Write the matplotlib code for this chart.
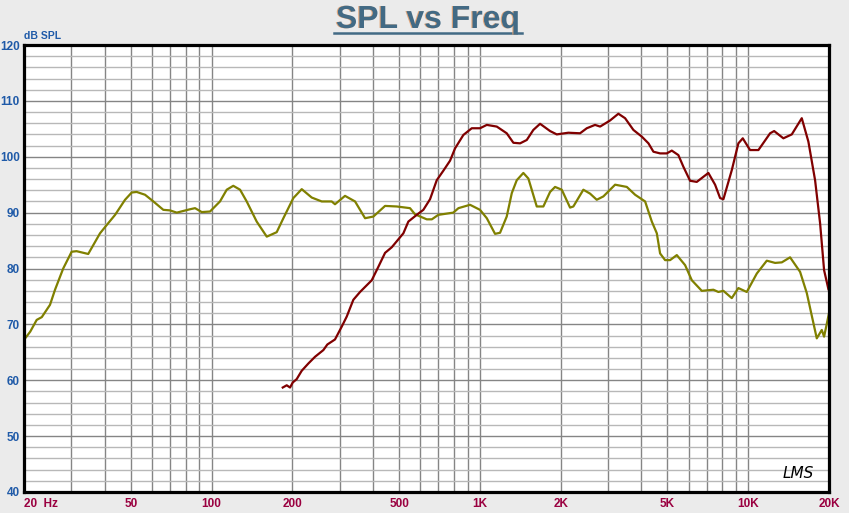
import numpy as np
import matplotlib
matplotlib.use('Agg')
import matplotlib.pyplot as plt
import matplotlib.patheffects as pe
from matplotlib.lines import Line2D
from matplotlib.ticker import NullFormatter

# olive trace
olive_freq = [20.2, 21.1, 22.3, 23.3, 25.0, 26.1, 28.0, 30.1, 31.4, 34.7,
              38.4, 40.7, 43.7, 47.6, 50.4, 52.6, 56.5, 60.7, 66.1, 70.0,
              74.2, 78.5, 83.1, 86.8, 91.9, 98.7, 107.5, 113.9, 120.5, 127.7,
              135.2, 147.3, 160.6, 174.9, 185.2, 201.7, 216.8, 236.2, 257.4, 280.4,
              288.4, 314.3, 342.6, 373.3, 400.9, 443.2, 490, 549, 573, 634,
              662, 700, 796, 832, 919, 1001, 1061, 1139, 1189, 1259,
              1315, 1372, 1452, 1516, 1629, 1724, 1826, 1906, 2019, 2168,
              2230, 2430, 2574, 2726, 2885, 3191, 3528, 3788, 4128, 4372,
              4564, 4694, 4900, 5115, 5418, 5818, 6162, 6714, 7417, 7742,
              8082, 8684, 9190, 9877, 10764, 11727, 12595, 13342, 14322, 15606,
              16530, 18008, 18800, 19175, 20000]
olive_spl = [67.5, 68.7, 70.8, 71.3, 73.5, 76.2, 80.0, 83.0, 83.1, 82.6,
             86.3, 87.8, 89.6, 92.3, 93.6, 93.7, 93.2, 92.0, 90.5, 90.4,
             90.0, 90.3, 90.6, 90.8, 90.1, 90.2, 92.0, 94.1, 94.8, 94.1,
             92.0, 88.4, 85.7, 86.5, 89.0, 92.6, 94.2, 92.7, 92.0, 92.0,
             91.5, 93.0, 92.0, 89.0, 89.3, 91.2, 91.1, 90.8, 89.7, 88.8,
             88.8, 89.6, 90.0, 90.8, 91.4, 90.5, 89.0, 86.2, 86.4, 89.3,
             93.5, 95.8, 97.1, 96.1, 91.1, 91.1, 93.7, 94.6, 94.1, 90.9,
             91.1, 94.1, 93.4, 92.3, 92.9, 95.0, 94.6, 93.2, 92.0, 88.4,
             86.3, 82.7, 81.5, 81.5, 82.4, 80.6, 77.9, 76.0, 76.2, 75.8,
             76.0, 74.7, 76.5, 75.8, 79.1, 81.4, 81.0, 81.1, 82.0, 79.4,
             75.6, 67.5, 69.0, 67.8, 72.0]

# red trace
red_freq = [184.2, 190.6, 196.1, 200.7, 207.6, 216.8, 229.5, 243.0, 261.0, 270.1,
            288.4, 305.6, 319.0, 337.6, 357.6, 395.4, 418.4, 443.2, 469.4, 518.6,
            541.3, 581.6, 615.6, 652.0, 690.6, 730.8, 774.2, 808.1, 867.8, 932.6,
            1001, 1061, 1156, 1259, 1333, 1412, 1495, 1582, 1676, 1826,
            1934, 2136, 2362, 2502, 2686, 2806, 3057, 3282, 3476, 3733,
            4013, 4248, 4433, 4694, 4972, 5190, 5491, 5734, 6072, 6432,
            7104, 7525, 7856, 8082, 8684, 9190, 9543, 10158, 10914, 12066,
            12491, 13521, 14532, 15832, 16758, 17749, 18528, 19175, 19900]
red_spl = [58.7, 59.1, 58.7, 59.6, 60.2, 61.7, 63.0, 64.2, 65.4, 66.4,
           67.3, 69.6, 71.4, 74.4, 75.8, 77.9, 80.3, 82.8, 83.8, 86.3,
           88.4, 89.6, 90.5, 92.4, 95.8, 97.5, 99.3, 101.5, 103.9, 105.1,
           105.1, 105.7, 105.4, 104.2, 102.5, 102.4, 103.0, 104.8, 105.9, 104.6,
           104.0, 104.3, 104.2, 105.1, 105.7, 105.4, 106.5, 107.7, 106.9, 104.8,
           103.6, 102.4, 100.9, 100.6, 100.6, 101.1, 100.3, 98.2, 95.7, 95.5,
           97.1, 95.0, 92.6, 92.4, 97.6, 102.4, 103.3, 101.2, 101.2, 104.2,
           104.6, 103.3, 104.0, 106.9, 102.7, 95.8, 88.1, 79.7, 76.3]

x_ticks = [20, 50, 100, 200, 500, 1000, 2000, 5000, 10000, 20000]
x_labels = ['20  Hz', '50', '100', '200', '500', '1K', '2K', '5K', '10K', '20K']
x_grid = [m * d for d in (10, 100, 1000) for m in range(2, 10)] + [10000, 20000]
y_ticks = list(range(40, 121, 10))

plt.rcParams['font.family'] = ['Liberation Sans', 'DejaVu Sans']

fig = plt.figure(figsize=(8.49, 5.13), dpi=100, facecolor='#ebebeb')
ax = fig.add_axes([24 / 849, 1 - 492 / 513, 805 / 849, 447 / 513])
ax.set_facecolor('white')

ax.set_xscale('log')
ax.set_xlim(20, 20000)
ax.set_ylim(40, 120)

ax.set_xticks(x_ticks)
ax.set_xticklabels(x_labels)
ax.set_xticks(x_grid, minor=True)
ax.xaxis.set_minor_formatter(NullFormatter())
ax.set_yticks(y_ticks)
ax.set_yticks(range(40, 121, 2), minor=True)
ax.tick_params(which='both', length=0)
ax.tick_params(axis='y', pad=3, labelsize=8.5, labelcolor='#1f5aa8')
ax.tick_params(axis='x', pad=4, labelsize=8.5, labelcolor='#9a0040')
for t in ax.get_xticklabels() + ax.get_yticklabels():
    t.set_fontweight('bold')
ax.get_xticklabels()[0].set_horizontalalignment('left')

ax.grid(axis='x', which='both', color='#858585', lw=1.0)
ax.grid(axis='y', which='minor', color='#b8b8b8', lw=1.0)
ax.grid(axis='y', which='major', color='#858585', lw=1.0)
ax.set_axisbelow(True)

for s in ax.spines.values():
    s.set_linewidth(2.3)
    s.set_color('black')

ax.plot(olive_freq, olive_spl, color='#808000', lw=1.6)
ax.plot(red_freq, red_spl, color='#800000', lw=1.6)

# title with underline
title_col = '#426a85'
fig.text(428 / 849, 1 - 28 / 513, 'SPL vs Freq', ha='center', va='baseline',
         fontsize=23, fontweight='bold', color=title_col,
         path_effects=[pe.withSimplePatchShadow(offset=(-0.8, 0), shadow_rgbFace='#e0a070', alpha=0.9)])
fig.add_artist(Line2D([334 / 849, 522 / 849], [1 - 32.5 / 513, 1 - 32.5 / 513],
                      color=title_col, lw=1.8, transform=fig.transFigure))

fig.text(24 / 849, 1 - 39 / 513, 'dB SPL', ha='left', va='baseline',
         fontsize=7.5, fontweight='bold', color='#1f5aa8')
fig.text(783 / 849, 1 - 478 / 513, 'LMS', ha='left', va='baseline',
         fontsize=11, style='italic', color='black', family='DejaVu Sans')

fig.savefig('out.png', dpi=100, facecolor=fig.get_facecolor())
